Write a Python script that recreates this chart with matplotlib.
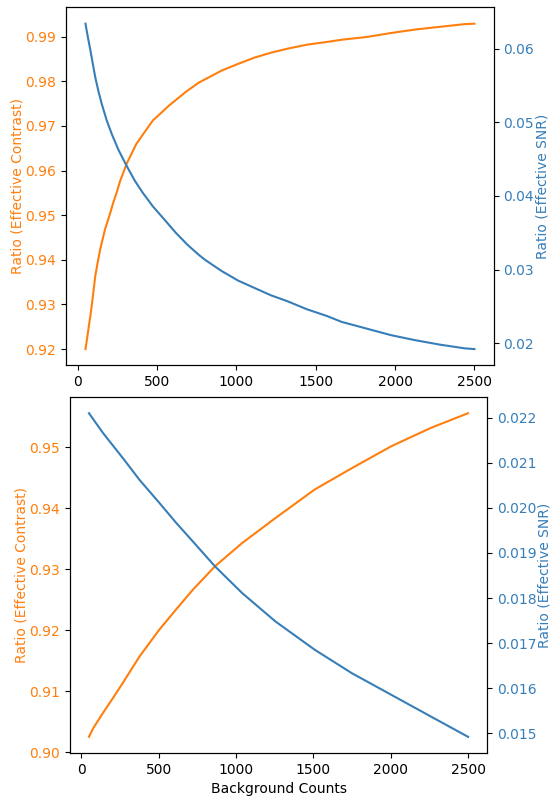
import matplotlib
matplotlib.use('Agg')
import matplotlib.pyplot as plt

# top panel
top_contrast_x = [50, 61, 71, 81, 92, 102, 112, 127, 143, 158, 174, 201, 226, 247, 267,
                  309, 371, 474, 578, 681, 764, 908, 1012, 1115, 1219, 1322, 1446,
                  1570, 1663, 1818, 1973, 2129, 2284, 2439, 2500]
top_contrast = [0.9200, 0.9225, 0.9251, 0.9274, 0.9304, 0.9334, 0.9364, 0.9394, 0.9424,
                0.9446, 0.9469, 0.9499, 0.9529, 0.9551, 0.9575, 0.9615, 0.9660, 0.9712,
                0.9746, 0.9776, 0.9797, 0.9824, 0.9839, 0.9853, 0.9864, 0.9873, 0.9882,
                0.9888, 0.9893, 0.9899, 0.9908, 0.9916, 0.9922, 0.9928, 0.9929]
top_snr_x = [50, 65, 81, 96, 112, 133, 154, 185, 216, 257, 309, 360, 412, 474, 547, 619,
             691, 764, 805, 908, 1012, 1115, 1219, 1322, 1446, 1570, 1663, 1818, 1973,
             2129, 2284, 2439, 2500]
top_snr = [0.0634, 0.0616, 0.0598, 0.0580, 0.0561, 0.0541, 0.0524, 0.0502, 0.0484,
           0.0463, 0.0441, 0.0421, 0.0404, 0.0386, 0.0368, 0.0350, 0.0334, 0.0320,
           0.0313, 0.0298, 0.0285, 0.0275, 0.0265, 0.0257, 0.0246, 0.0237, 0.0229,
           0.0220, 0.0211, 0.0204, 0.0198, 0.0193, 0.0192]

# bottom panel
bot_contrast_x = [50, 77, 140, 206, 270, 377, 505, 613, 720, 865, 1040, 1255, 1510,
                  1750, 2005, 2260, 2500]
bot_contrast = [0.9025, 0.9039, 0.9064, 0.9089, 0.9114, 0.9157, 0.9201, 0.9234, 0.9266,
                0.9305, 0.9343, 0.9384, 0.9431, 0.9466, 0.9502, 0.9532, 0.9556]
bot_snr_x = [50, 141, 270, 377, 505, 613, 720, 865, 1040, 1255, 1510, 1750, 2005,
             2260, 2500]
bot_snr = [0.02210, 0.02166, 0.02110, 0.02062, 0.02011, 0.01967, 0.01926, 0.01870,
           0.01811, 0.01748, 0.01685, 0.01633, 0.01585, 0.01537, 0.01492]

c_orange = '#ff7f0e'
c_blue = '#377eb8'

fig = plt.figure(figsize=(5.5, 7.96), dpi=100)


def make_panel(rect, xc, yc, xs, ys, xpad):
    ax = fig.add_axes(rect)
    ax.plot(xc, yc, color=c_orange)
    ax.set_xlabel('Background Counts', labelpad=xpad)
    ax.set_ylabel('Ratio (Effective Contrast)', color=c_orange, labelpad=0.5)
    ax.tick_params(axis='y', labelcolor=c_orange)
    ax2 = ax.twinx()
    ax2.plot(xs, ys, color=c_blue)
    ax2.set_ylabel('Ratio (Effective SNR)', color=c_blue, labelpad=0.5)
    ax2.tick_params(axis='y', labelcolor=c_blue)
    return ax, ax2


make_panel([0.12, 0.541, 0.778, 0.4497], top_contrast_x, top_contrast,
           top_snr_x, top_snr, 7)
make_panel([0.1273, 0.054, 0.7582, 0.4472], bot_contrast_x, bot_contrast,
           bot_snr_x, bot_snr, 4)

fig.savefig('out.png', dpi=100)
